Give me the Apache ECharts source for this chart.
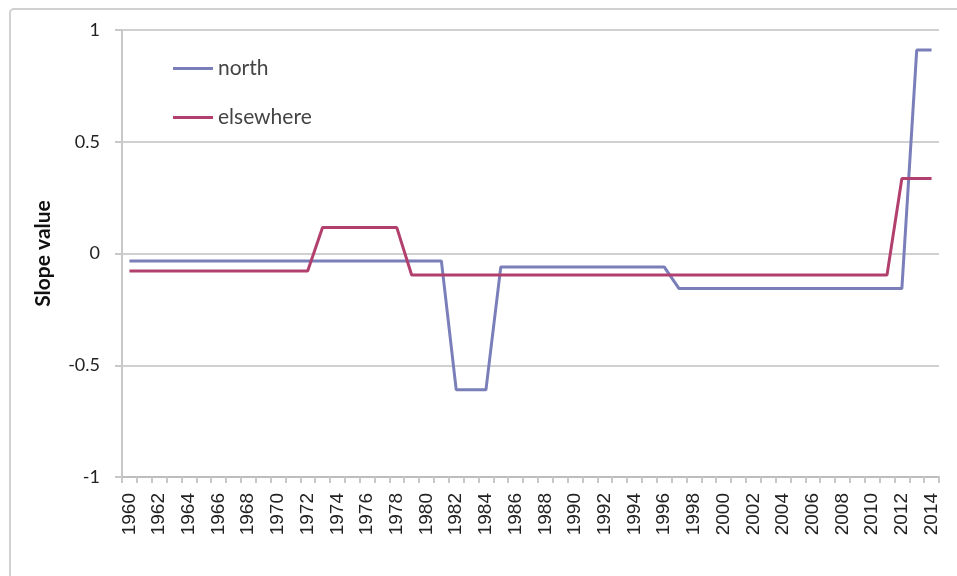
<!DOCTYPE html>
<html>
<head>
<meta charset="utf-8">
<script src="https://cdn.jsdelivr.net/npm/echarts@6/dist/echarts.min.js"></script>
<style>html,body{margin:0;padding:0;background:#fff}#c{width:957px;height:576px}</style>
</head>
<body>
<div id="c"></div>
<script>
const years = [];
for (let y = 1960; y <= 2014; y++) years.push(String(y));
const northLevels = [
  [1960, 1981, -0.033],
  [1982, 1984, -0.61],
  [1985, 1996, -0.06],
  [1997, 2012, -0.157],
  [2013, 2014, 0.91]
];
const elsewhereLevels = [
  [1960, 1972, -0.078],
  [1973, 1978, 0.116],
  [1979, 2011, -0.096],
  [2012, 2014, 0.336]
];
function expand(levels) {
  const out = [];
  levels.forEach(([a, b, v]) => { for (let y = a; y <= b; y++) out.push(v); });
  return out;
}
const north = expand(northLevels);
const elsewhere = expand(elsewhereLevels);
const yTicks = [-1, -0.5, 0, 0.5, 1];

const chart = echarts.init(document.getElementById('c'));
chart.setOption({
  animation: false,
  backgroundColor: '#fff',
  graphic: [{
    type: 'rect',
    shape: { x: 10, y: 9, width: 970, height: 600, r: 4 },
    style: { fill: 'none', stroke: '#d0d0d0', lineWidth: 2 }
  }],
  grid: { left: 122, right: 18, top: 30, bottom: 99 },
  legend: {
    left: 168, top: 53, orient: 'vertical', itemGap: 28,
    itemWidth: 40, itemHeight: 3, icon: 'rect',
    textStyle: { fontFamily: 'Lato', fontSize: 21, color: '#444' },
    data: ['north', 'elsewhere']
  },
  xAxis: {
    type: 'category', data: years, boundaryGap: true,
    axisLine: { onZero: false, lineStyle: { color: '#bdbdbd', width: 2 } },
    axisTick: { show: true, interval: 0, length: 6, lineStyle: { color: '#c8c8c8', width: 2 } },
    axisLabel: { interval: 1, rotate: 90, margin: 16, fontFamily: 'Liberation Sans', fontSize: 19, color: '#222' },
    splitLine: { show: false }
  },
  yAxis: {
    type: 'value', min: -1, max: 1, interval: 0.5,
    name: 'Slope value', nameLocation: 'middle', nameGap: 68,
    nameTextStyle: { fontFamily: 'Lato', fontWeight: 'bold', fontSize: 21, color: '#111' },
    axisLine: { show: true, lineStyle: { color: '#c8c8c8', width: 2 } },
    axisTick: { show: true, length: 7, lineStyle: { color: '#c8c8c8', width: 2 } },
    axisLabel: { margin: 22, fontFamily: 'Lato', fontSize: 18, color: '#222',
      formatter: v => yTicks.includes(v) ? String(v) : '' },
    splitLine: { lineStyle: { color: '#d0d0d0', width: 2 } }
  },
  series: [
    { name: 'north', type: 'line', data: north, symbol: 'none', color: '#7a7fb9',
      lineStyle: { width: 3, color: '#7a7fb9' } },
    { name: 'elsewhere', type: 'line', data: elsewhere, symbol: 'none', color: '#b1406f',
      lineStyle: { width: 3, color: '#b1406f' } }
  ]
});
</script>
</body>
</html>
